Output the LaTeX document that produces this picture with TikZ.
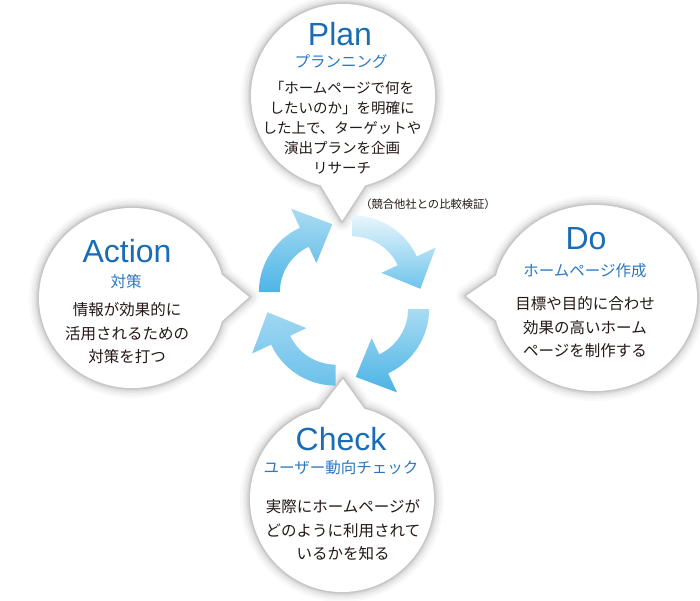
\documentclass[tikz,border=0pt]{standalone}
\usepackage{fontspec}
\setmainfont{Liberation Sans}
\newfontfamily\jp{Noto Sans CJK JP}
\usetikzlibrary{calc}
\definecolor{ttlblue}{HTML}{1A6DB5}
\definecolor{subblue}{HTML}{2B78BF}
\definecolor{txtcol}{HTML}{231815}
\definecolor{tlTop}{HTML}{AADCF3}\definecolor{tlBot}{HTML}{4DB5E6}
\definecolor{trTop}{HTML}{E8F6FC}\definecolor{trBot}{HTML}{6EC4EC}
\definecolor{brTop}{HTML}{A9DCF3}\definecolor{brBot}{HTML}{4AB3E5}
\definecolor{blTop}{HTML}{A0D7F1}\definecolor{blBot}{HTML}{6BC1EA}
\newcommand{\bubblepath}[6]{($(#1)+(#4+#5:#2 and #3)$) -- (#6) -- ($(#1)+(#4-#5:#2 and #3)$) arc[start angle=#4-#5, end angle=#4+#5-360, x radius=#2, y radius=#3] -- cycle}
\newcommand{\bubble}[6]{%
  \foreach \w/\o in {20/0.025,15/0.035,10/0.045,6/0.06,3/0.08}{%
    \draw[line width=\w, black, opacity=\o, line join=round] \bubblepath{#1}{#2}{#3}{#4}{#5}{#6};}
  \fill[white] \bubblepath{#1}{#2}{#3}{#4}{#5}{#6};}
\newcommand{\cyc}[4]{\path[top color=#3, bottom color=#4] ($(#1)+(#2:71)$) arc[start angle=#2, end angle=#2+65, radius=71] -- ($(#1)+(#2+65:92)$) -- ($(#1)+(#2+92:68)$) -- ($(#1)+(#2+65:32)$) -- ($(#1)+(#2+65:50)$) arc[start angle=#2+65, end angle=#2, radius=50] -- cycle;}
\tikzset{
  hd/.style={text=ttlblue, font=\fontsize{32}{32}\selectfont, inner sep=0},
  sb/.style={text=subblue, font=\jp\fontsize{15.5}{15.5}\selectfont, inner sep=0},
  bd/.style={text=txtcol, font=\jp\fontsize{15.5}{23.5}\selectfont, align=center, inner sep=0},
}
\begin{document}
\begin{tikzpicture}[x=1pt,y=-1pt]
\fill[white] (0,0) rectangle (700,600);
\useasboundingbox (0,0) rectangle (700,600);
% bubbles
\bubble{343,96}{92}{92}{90}{14}{342,221}
\bubble{595,298}{102}{93}{180}{14}{466,296}
\bubble{132,298}{93}{90}{0}{15}{249,297}
\bubble{342,499}{92}{93}{270}{14}{343,379}
% cycle arrows
\coordinate (cTL) at (329.9,292.05);
\coordinate (cTR) at (352.4,286.4);
\coordinate (cBR) at (358.1,309);
\coordinate (cBL) at (335.5,314.6);
\cyc{cTL}{180}{tlTop}{tlBot}
\cyc{cTR}{270}{trTop}{trBot}
\cyc{cBR}{0}{brTop}{brBot}
\cyc{cBL}{90}{blTop}{blBot}
% texts
\node[hd] (planT) at (340,34) {Plan};
\node[sb] (planS) at (341,62) {プランニング};
\node[bd, font=\jp\fontsize{14.5}{20}\selectfont] (planB) at (342,127.5) {「ホームページで何を\\したいのか」を明確に\\した上で、ターゲットや\\演出プランを企画\\リサーチ};
\node[text=txtcol, font=\jp\fontsize{11.3}{11.3}\selectfont, inner sep=0] (note) at (428,204) {（競合他社との比較検証）};
\node[hd] (doT) at (586,238.5) {Do};
\node[sb] (doS) at (585,271) {ホームページ作成};
\node[bd] (doB) at (585,327.5) {目標や目的に合わせ\\効果の高いホーム\\ページを制作する};
\node[hd] (actT) at (127,251) {Action};
\node[sb] (actS) at (126,282) {対策};
\node[bd] (actB) at (127,333.5) {情報が効果的に\\活用されるための\\対策を打つ};
\node[hd] (chkT) at (341,439) {Check};
\node[sb] (chkS) at (341,468) {ユーザー動向チェック};
\node[bd] (chkB) at (343,530.5) {実際にホームページが\\どのように利用されて\\いるかを知る};
\end{tikzpicture}
\end{document}
